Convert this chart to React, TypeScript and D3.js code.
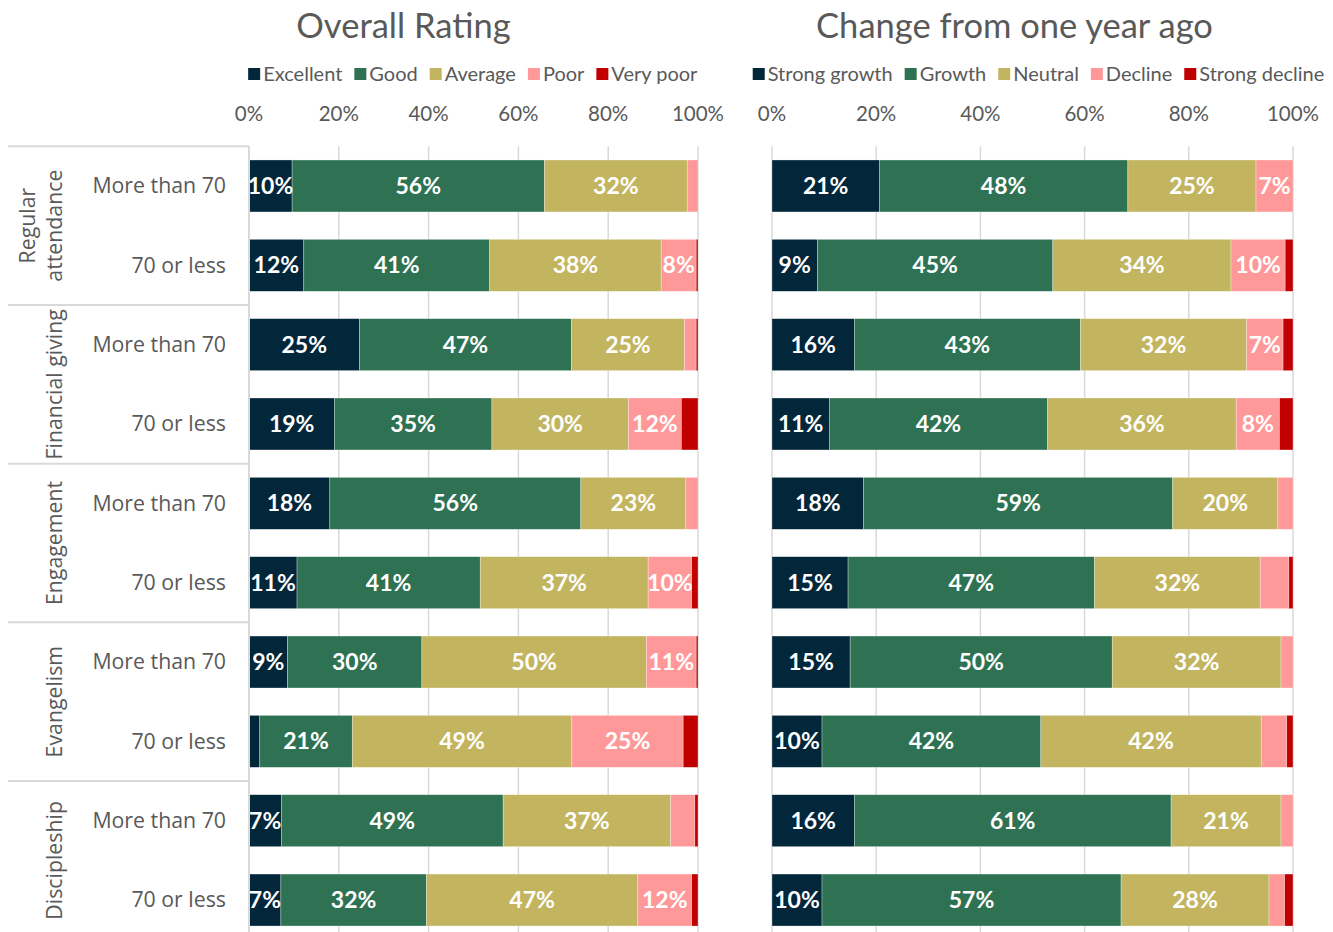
import React from "react";
import * as d3 from "d3";

const groups = ["Regular attendance", "Financial giving", "Engagement", "Evangelism", "Discipleship"];
const groupLines = [["Regular", "attendance"], ["Financial giving"], ["Engagement"], ["Evangelism"], ["Discipleship"]];
const subCats = ["More than 70", "70 or less"];
const ratingKeys = ["Excellent", "Good", "Average", "Poor", "Very poor"];
const changeKeys = ["Strong growth", "Growth", "Neutral", "Decline", "Strong decline"];
const ticks = [0, 20, 40, 60, 80, 100];

// Overall Rating (%), rows in order: group x subcategory
const excellent = [9.6, 12.2, 24.6, 19.0, 18.0, 10.7, 8.6, 2.4, 7.2, 7.1];
const good = [56.2, 41.4, 47.2, 35.1, 55.9, 40.8, 29.9, 20.6, 49.4, 32.4];
const average = [31.8, 38.2, 25.2, 30.4, 23.4, 37.4, 50.0, 48.9, 37.3, 47.1];
const poor = [2.4, 7.8, 2.6, 11.8, 2.7, 9.7, 11.1, 24.8, 5.4, 12.0];
const veryPoor = [0, 0.4, 0.4, 3.7, 0, 1.4, 0.4, 3.3, 0.7, 1.4];

// Change from one year ago (%)
const strongGrowth = [20.6, 8.7, 15.8, 11.0, 17.6, 14.6, 15.0, 9.6, 15.8, 9.6];
const growth = [47.7, 45.2, 43.4, 41.9, 59.3, 47.3, 50.3, 42.0, 60.8, 57.4];
const neutral = [24.6, 34.2, 31.9, 36.2, 20.2, 31.8, 32.4, 42.3, 21.1, 28.4];
const decline = [7.1, 10.4, 7.0, 8.3, 2.9, 5.5, 2.3, 4.9, 2.3, 3.0];
const strongDecline = [0, 1.5, 1.9, 2.6, 0, 0.8, 0, 1.2, 0, 1.6];

const colors = ["#02263A", "#2E7253", "#C3B560", "#FF9999", "#C00000"];
const TEXT = "#595959";
const GRID = "#D9D9D9";
const CAL = "Lato, 'Open Sans', sans-serif";
const SEG = "'Open Sans', 'Noto Sans', sans-serif";

const rowIds = d3.range(groups.length * subCats.length);

function buildRows(keys: string[], series: number[][]) {
  return rowIds.map((i) => {
    const o: any = { id: i };
    keys.forEach((k, j) => (o[k] = series[j][i]));
    return o;
  });
}

const ratingRows = buildRows(ratingKeys, [excellent, good, average, poor, veryPoor]);
const changeRows = buildRows(changeKeys, [strongGrowth, growth, neutral, decline, strongDecline]);

let ctx: CanvasRenderingContext2D | null = null;
function measure(text: string, font: string) {
  if (!ctx) ctx = document.createElement("canvas").getContext("2d");
  ctx!.font = font;
  return ctx!.measureText(text).width;
}

const W = 1333;
const H = 932;
const yTop = 146.3;
const yBottom = 939.7;
const y = d3.scaleBand<number>().domain(rowIds).range([yTop, yBottom]).paddingInner(0.345).paddingOuter(0.1725);

function Legend({ keys, cx, cy }: { keys: string[]; cx: number; cy: number }) {
  const fs = 20;
  const font = `${fs}px Lato`;
  const sq = 12;
  const gapT = 3;
  const gapI = 12;
  const widths = keys.map((k) => sq + gapT + measure(k, font));
  const total = d3.sum(widths) + gapI * (keys.length - 1);
  let x0 = cx - total / 2;
  const items = keys.map((k, i) => {
    const x = x0;
    x0 += widths[i] + gapI;
    return (
      <g key={k} transform={`translate(${x},${cy})`}>
        <rect x={0} y={-sq / 2} width={sq} height={sq} fill={colors[i]} />
        <text x={sq + gapT} y={0} dy="0.35em" fontSize={fs} fontFamily={CAL} fill={TEXT}>
          {k}
        </text>
      </g>
    );
  });
  return <g>{items}</g>;
}

function Panel({ keys, rows, x0, x1, title, titleX, legendX }: any) {
  const x = d3.scaleLinear().domain([0, 100]).range([x0, x1]);
  const stack = d3.stack<any>().keys(keys)(rows);
  return (
    <g>
      <text x={titleX} y={26} dy="0.35em" textAnchor="middle" fontSize={34.5} fontFamily={CAL} fill={TEXT}>
        {title}
      </text>
      <Legend keys={keys} cx={legendX} cy={74} />
      {ticks.map((t) => (
        <text key={"t" + t} x={x(t)} y={114} dy="0.35em" textAnchor="middle" fontSize={20.5} fontFamily={CAL} fill={TEXT}>
          {t}%
        </text>
      ))}
      {ticks.map((t) => (
        <line key={"g" + t} x1={x(t)} x2={x(t)} y1={yTop} y2={H} stroke={GRID} strokeWidth={1.5} />
      ))}
      {stack.map((s, si) => (
        <g key={keys[si]}>
          {s.map((d: any, i: number) => {
            const w = x(d[1]) - x(d[0]);
            if (w <= 0) return null;
            return (
              <rect
                key={i}
                x={x(d[0])}
                y={y(rows[i].id)!}
                width={w}
                height={y.bandwidth()}
                fill={colors[si]}
                stroke="#ffffff"
                strokeOpacity={0.5}
                strokeWidth={0.6}
              />
            );
          })}
        </g>
      ))}
      {stack.map((s, si) => (
        <g key={"l" + keys[si]}>
          {s.map((d: any, i: number) => {
            const v = d[1] - d[0];
            if (v < 6) return null;
            return (
              <text
                key={i}
                x={x((d[0] + d[1]) / 2)}
                y={y(rows[i].id)! + y.bandwidth() / 2}
                dy="0.35em"
                textAnchor="middle"
                fontSize={23}
                fontWeight={700}
                fontFamily={CAL}
                fill="#ffffff"
              >
                {Math.round(v)}%
              </text>
            );
          })}
        </g>
      ))}
    </g>
  );
}

export default function App() {
  const step = y.step();
  return (
    <svg width={W} height={H} style={{ position: "absolute", left: 0, top: 0, background: "#fff" }}>
      <rect width={W} height={H} fill="#fff" />
      <Panel
        keys={ratingKeys}
        rows={ratingRows}
        x0={249}
        x1={698}
        title="Overall Rating"
        titleX={403.5}
        legendX={473}
      />
      <Panel
        keys={changeKeys}
        rows={changeRows}
        x0={772}
        x1={1293}
        title="Change from one year ago"
        titleX={1014.5}
        legendX={1038.5}
      />
      {/* category axis */}
      {groups.map((g, gi) => {
        const top = yTop + step * 2 * gi;
        const cy = top + step;
        const lines = groupLines[gi];
        return (
          <g key={g}>
            <line x1={8} x2={249} y1={top} y2={top} stroke={GRID} strokeWidth={2} />
            {lines.map((ln, li) => (
              <text
                key={ln}
                transform={`translate(${lines.length === 1 ? 55 : 28 + li * 27},${cy}) rotate(-90)`}
                textAnchor="middle"
                dy="0.35em"
                fontSize={21.3}
                fontFamily={SEG}
                fill={TEXT}
              >
                {ln}
              </text>
            ))}
            {subCats.map((s, si) => {
              const id = gi * subCats.length + si;
              return (
                <text
                  key={s}
                  x={226}
                  y={y(id)! + y.bandwidth() / 2}
                  dy="0.35em"
                  textAnchor="end"
                  fontSize={21.3}
                  fontFamily={SEG}
                  fill={TEXT}
                >
                  {s}
                </text>
              );
            })}
          </g>
        );
      })}
      <line x1={249} x2={249} y1={yTop} y2={H} stroke={GRID} strokeWidth={2} />
    </svg>
  );
}
